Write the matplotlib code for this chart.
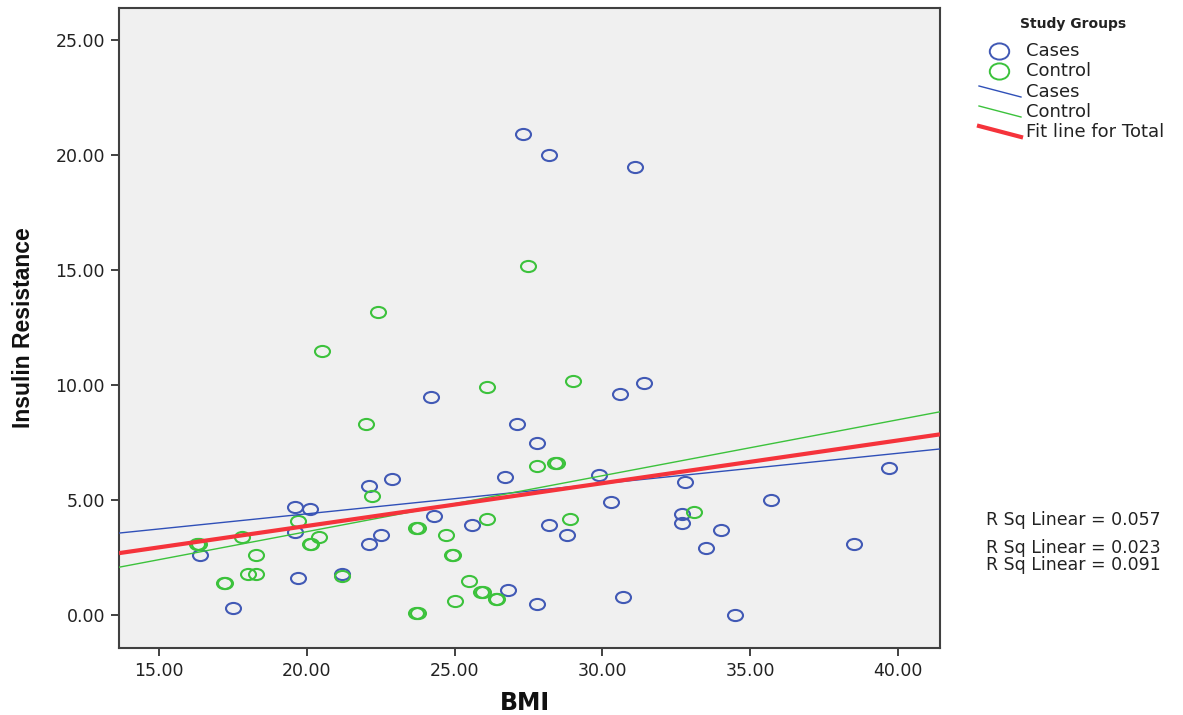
"""
BMI vs insulin resistance scatter, SPSS style, with group and total fit lines.
"""
import numpy as np
import matplotlib.pyplot as plt
from matplotlib.path import Path
from matplotlib.markers import MarkerStyle
from matplotlib.lines import Line2D
from matplotlib.transforms import Affine2D

BLUE, GREEN, RED = "#4159b5", "#3cc23c", "#f5333b"
BG = "#f0f0f0"

# --- data ---
cases_bmi = [27.3, 28.2, 31.1, 30.6, 31.4, 24.2, 27.1, 27.8, 26.7, 22.9,
             22.1, 19.6, 20.1, 19.6, 22.5, 22.1, 24.3, 25.6, 28.2, 28.8,
             29.9, 30.3, 32.8, 32.7, 32.7, 34.0, 33.5, 35.7, 39.7, 38.5,
             16.4, 19.7, 17.5, 21.2, 26.8, 27.8, 30.7, 34.5]
cases_ir = [20.9, 20.0, 19.5, 9.6, 10.1, 9.5, 8.3, 7.5, 6.0, 5.9,
            5.6, 4.7, 4.6, 3.6, 3.5, 3.1, 4.3, 3.9, 3.9, 3.5,
            6.1, 4.9, 5.8, 4.4, 4.0, 3.7, 2.9, 5.0, 6.4, 3.1,
            2.6, 1.6, 0.3, 1.8, 1.1, 0.5, 0.8, 0.0]

control_bmi = [27.5, 22.4, 20.5, 26.1, 29.0, 22.0, 22.2, 19.7, 17.8, 16.3,
               16.35, 20.4, 20.1, 20.15, 18.3, 17.2, 17.25, 18.0, 18.3, 21.2,
               23.7, 23.75, 24.7, 24.9, 24.95, 23.7, 23.75, 25.0, 25.5, 25.9,
               25.95, 26.4, 26.45, 26.1, 27.8, 28.4, 28.45, 28.9, 33.1]
control_ir = [15.2, 13.2, 11.5, 9.9, 10.2, 8.3, 5.2, 4.1, 3.4, 3.1,
              3.1, 3.4, 3.1, 3.1, 2.6, 1.4, 1.4, 1.8, 1.8, 1.7,
              3.8, 3.8, 3.5, 2.6, 2.6, 0.1, 0.1, 0.6, 1.5, 1.0,
              1.0, 0.7, 0.7, 4.2, 6.5, 6.6, 6.6, 4.2, 4.5]

# fit lines (slope, intercept) and their R squared
fit_cases = (0.1317, 1.77)
fit_control = (0.2434, -1.24)
fit_total = (0.186, 0.156)
r2_labels = ["R Sq Linear = 0.057", "R Sq Linear = 0.023", "R Sq Linear = 0.091"]

x_ticks = [15, 20, 25, 30, 35, 40]
y_ticks = [0, 5, 10, 15, 20, 25]
xlim = (13.65, 41.42)
ylim = (-1.43, 26.4)


def ellipse(ratio):
    """Slightly wide circle marker, the source image is stretched sideways."""
    return MarkerStyle(Path.unit_circle().transformed(Affine2D().scale(ratio, 1.0)))


W, H = 1183, 715
fig = plt.figure(figsize=(W / 100, H / 100), dpi=100)
ax = fig.add_axes([119 / W, 1 - 648 / H, (940 - 119) / W, (648 - 8) / H])
ax.set_facecolor(BG)

mk = ellipse(1.35)
ax.plot(cases_bmi, cases_ir, ls="none", marker=mk, ms=10.8, mfc="none",
        mec=BLUE, mew=1.5, zorder=3)
ax.plot(control_bmi, control_ir, ls="none", marker=mk, ms=10.8, mfc="none",
        mec=GREEN, mew=1.5, zorder=3)

xs = np.array(xlim)
for (m, b), c, lw in [(fit_cases, "#3050b8", 1.0),
                      (fit_control, "#3cc23c", 1.0),
                      (fit_total, RED, 3.0)]:
    ax.plot(xs, m * xs + b, color=c, lw=lw, zorder=4, solid_capstyle="butt")

ax.set_xlim(*xlim)
ax.set_ylim(*ylim)
ax.set_xticks(x_ticks)
ax.set_yticks(y_ticks)
ax.set_xticklabels([f"{v:.2f}" for v in x_ticks])
ax.set_yticklabels([f"{v:.2f}" for v in y_ticks])
ax.tick_params(direction="out", length=6, width=1.3, color="#333333",
               labelsize=12.5, labelcolor="#222222", pad=4)
for s in ax.spines.values():
    s.set_color("#404040")
    s.set_linewidth(1.5)


def fx(px):
    return px / W


def fy(py):
    return 1 - py / H


# axis titles placed in figure pixels
fig.text(fx(525), fy(703), "BMI", fontsize=17, fontweight="bold",
         ha="center", va="center", color="#111111")
fig.text(fx(23), fy(328), "Insulin Resistance", fontsize=16.5, fontweight="bold",
         family=["Liberation Sans", "DejaVu Sans"], rotation=90,
         ha="center", va="center", color="#111111")

# --- legend, drawn in figure pixels like the SPSS one ---
fig.text(fx(1020), fy(24), "Study Groups", fontsize=10, fontweight="bold",
         va="center", ha="left", color="#222222")
lg_mk = ellipse(1.2)
for py, c, lab in [(51, BLUE, "Cases"), (71, GREEN, "Control")]:
    fig.add_artist(Line2D([fx(999)], [fy(py)], ls="none", marker=lg_mk, ms=14,
                          mfc="none", mec=c, mew=1.4, transform=fig.transFigure))
    fig.text(fx(1026), fy(py), lab, fontsize=13, va="center", color="#222222")
for py, c, lw, lab in [(92, "#3050b8", 1.0, "Cases"),
                       (112, "#3cc23c", 1.0, "Control"),
                       (132, RED, 3.0, "Fit line for Total")]:
    fig.add_artist(Line2D([fx(979), fx(1021)], [fy(py - 6), fy(py + 5)],
                          color=c, lw=lw, transform=fig.transFigure))
    fig.text(fx(1026), fy(py), lab, fontsize=13, va="center", color="#222222")

for py, lab in zip([520, 548, 565], r2_labels):
    fig.text(fx(986), fy(py), lab, fontsize=12.5, va="center", color="#222222")

fig.savefig("out.png", dpi=100, facecolor="white")
